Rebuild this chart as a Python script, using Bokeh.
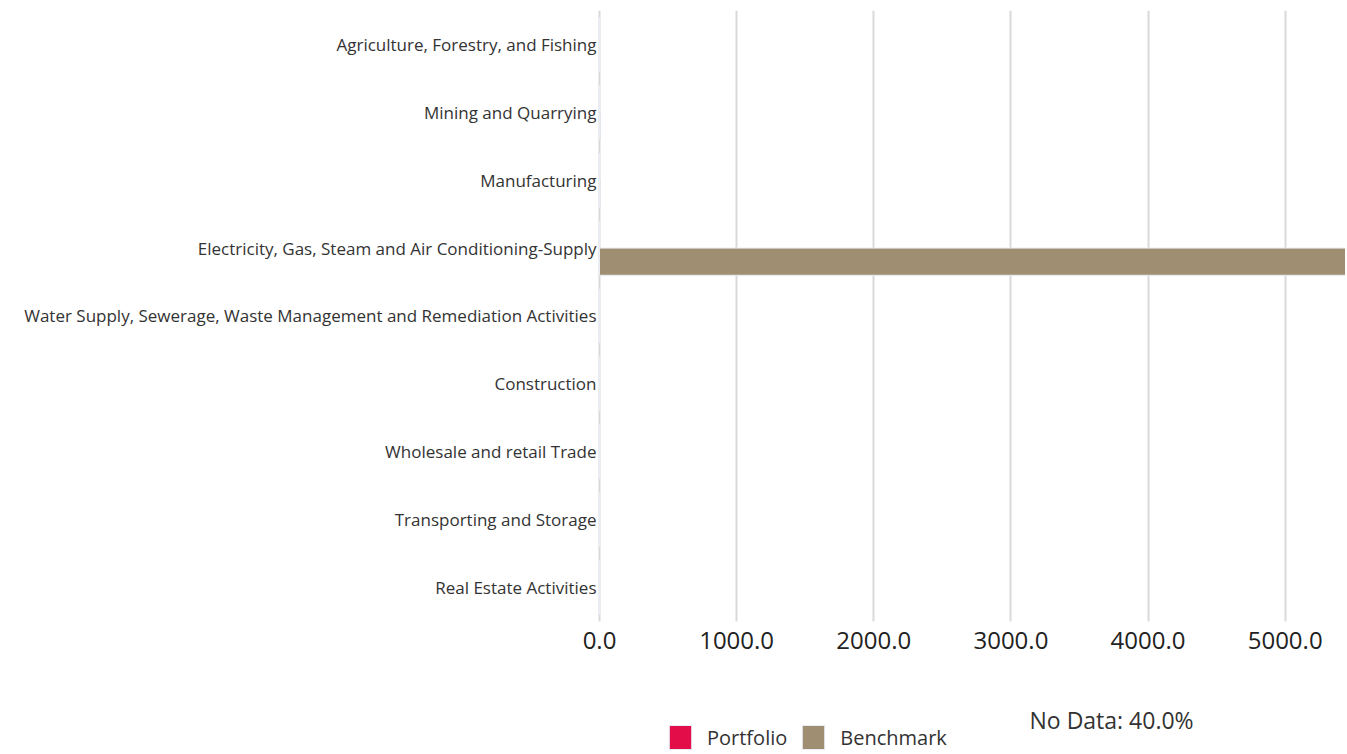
from bokeh.plotting import figure
from bokeh.models import (Range1d, FixedTicker, PrintfTickFormatter,
                          Legend, LegendItem, Label, ColumnDataSource)
from bokeh.transform import dodge
from bokeh.embed import file_html
from bokeh.resources import INLINE

categories = [
    "Agriculture, Forestry, and Fishing",
    "Mining and Quarrying",
    "Manufacturing",
    "Electricity, Gas, Steam and Air Conditioning-Supply",
    "Water Supply, Sewerage, Waste Management and Remediation Activities",
    "Construction",
    "Wholesale and retail Trade",
    "Transporting and Storage",
    "Real Estate Activities",
]
portfolio = [0.0, 1.5, 1.0, 0.0, 0.0, 0.0, 0.0, 0.0, 0.0]
benchmark = [0.0, 8.0, 6.0, 5440.0, 3.0, 2.0, 3.0, 2.0, 0.0]
x_ticks = [0, 1000, 2000, 3000, 4000, 5000]
no_data_text = "No Data: 40.0%"

FONT = "Open Sans"
PORT_COLOR = "#E30D4A"
BENCH_COLOR = "#A08E72"

W, H = 1345, 752
LABEL_AREA = 599          # pixels left of the zero line reserved for category labels

n = len(categories)
ypos = [-i for i in range(n)]           # row positions, first category on top
row_top, row_bottom = 0.5, -(n - 1) - 0.5
extra_below = 1.93                       # room under the rows for axis labels and legend
x_end = max(benchmark)
x_start = -x_end * LABEL_AREA / (W - LABEL_AREA)

src = ColumnDataSource(dict(y=ypos, cat=categories, portfolio=portfolio, benchmark=benchmark))

p = figure(width=W, height=H,
           y_range=Range1d(row_bottom - extra_below, row_top),
           x_range=Range1d(x_start, x_end),
           output_backend="svg", toolbar_location=None,
           min_border_left=0, min_border_right=0,
           min_border_top=10, min_border_bottom=0)

r1 = p.hbar(y=dodge("y", 0.2), right="portfolio", left=0, height=0.4,
            source=src, fill_color=PORT_COLOR, line_color="#e8ecf5", line_width=1)
r2 = p.hbar(y=dodge("y", -0.2), right="benchmark", left=0, height=0.4,
            source=src, fill_color=BENCH_COLOR, line_color="#e8ecf5", line_width=1)

p.outline_line_color = None
p.ygrid.grid_line_color = None
p.xgrid.grid_line_color = "#d9d9d9"
p.xgrid.grid_line_width = 2
p.xgrid.cross_bounds = (row_bottom, row_top)

p.xaxis.fixed_location = row_bottom
p.xaxis.ticker = FixedTicker(ticks=x_ticks)
p.xaxis.formatter = PrintfTickFormatter(format="%.1f")
p.xaxis.axis_line_color = None
p.xaxis.major_tick_line_color = None
p.xaxis.minor_tick_line_color = None
p.xaxis.major_tick_out = 0
p.xaxis.major_tick_in = 0
p.xaxis.major_label_standoff = 11
p.xaxis.major_label_text_font = FONT
p.xaxis.major_label_text_font_size = "24px"
p.xaxis.major_label_text_color = "#222222"

p.yaxis.fixed_location = 0
p.yaxis.ticker = FixedTicker(ticks=ypos)
p.yaxis.major_label_overrides = {y: c for y, c in zip(ypos, categories)}
p.yaxis.axis_line_color = None
p.yaxis.major_tick_line_color = None
p.yaxis.minor_tick_line_color = None
p.yaxis.major_tick_out = 0
p.yaxis.major_tick_in = 0
p.yaxis.major_label_standoff = 3
p.yaxis.major_label_text_font = FONT
p.yaxis.major_label_text_font_size = "17px"
p.yaxis.major_label_text_color = "#333333"

legend = Legend(items=[LegendItem(label="Portfolio", renderers=[r1]),
                       LegendItem(label="Benchmark", renderers=[r2])],
                orientation="horizontal", location=(666, 0), margin=0,
                border_line_color=None, background_fill_alpha=0,
                padding=0, spacing=12, glyph_width=28, glyph_height=30,
                label_standoff=13, label_text_font=FONT,
                label_text_font_size="20px", label_text_color="#333333")
p.add_layout(legend, "center")

lbl = Label(x=1029, y=33, x_units="screen", y_units="screen", text=no_data_text,
            text_font=FONT, text_font_size="23px", text_color="#333333",
            text_baseline="middle")
p.add_layout(lbl)

open("out.html", "w").write(file_html(p, INLINE))
